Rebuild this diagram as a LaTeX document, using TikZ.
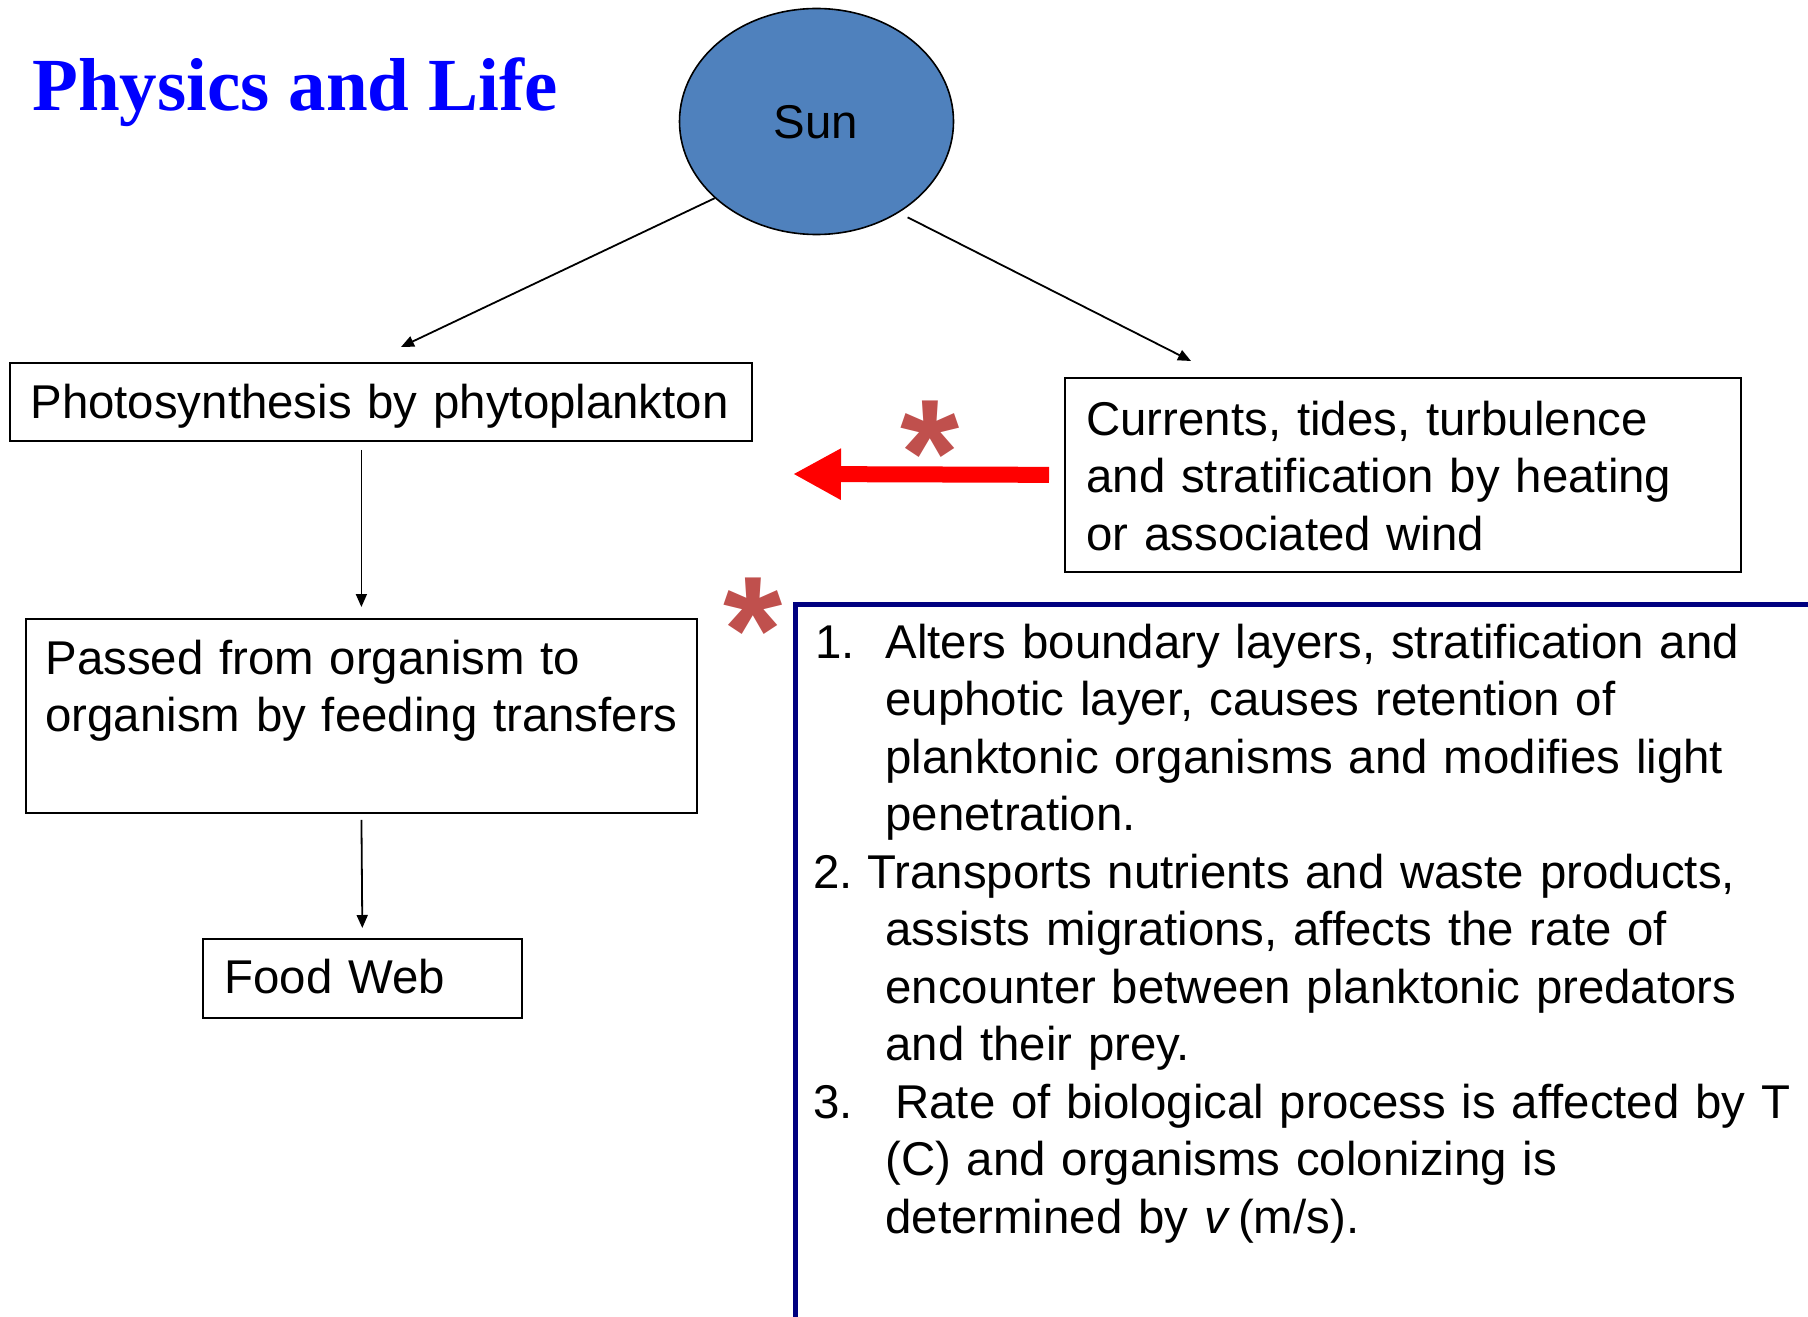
\documentclass[tikz,border=0pt]{standalone}
\usepackage{fontspec}
\setmainfont{Liberation Sans}
\newfontfamily\titlefont{Liberation Serif}
\usetikzlibrary{arrows.meta,shapes.geometric}
\definecolor{sunblue}{HTML}{4F81BD}
\definecolor{astred}{HTML}{C0504D}
\definecolor{panelblue}{HTML}{000080}
\definecolor{titleblue}{HTML}{0000FF}
\begin{document}
\begin{tikzpicture}[x=0.5pt,y=-0.5pt,
  box/.style={draw=black, line width=0.9pt, anchor=north west, inner sep=0pt},
  txt/.style={anchor=base west, inner sep=0pt, align=left, text width=470pt,
              font=\fontsize{23.7}{28.75}\selectfont},
  arr/.style={draw=black, line width=0.9pt, -{Triangle[length=6.5pt,width=5.5pt]}},
  ast/.style={anchor=base, inner sep=0pt, text=astred,
              font=\fontsize{76}{76}\selectfont\bfseries},
  redarrow/.style={draw=red, line width=8pt, -{Triangle[length=24pt,width=24pt]}},
  panel/.style={draw=panelblue, line width=2.6pt, anchor=north west, inner sep=0pt}]
\useasboundingbox (0,0) rectangle (1808,1316);

% title
\node[anchor=base west, inner sep=0pt, text=titleblue,
      font=\titlefont\bfseries\fontsize{37.5}{40}\selectfont] (title) at (32,111) {Physics and Life};

% sun
\node[ellipse, draw=black, line width=0.8pt, fill=sunblue,
      minimum width=137pt, minimum height=113pt, inner sep=0pt] (sun) at (816.5,121.5) {};
\node[anchor=base, inner sep=0pt, font=\fontsize{23.7}{28.75}\selectfont] (suntext) at (816,139) {Sun};

% boxes
\node[box, minimum width=371pt, minimum height=39pt] (photo) at (9,362) {};
\node[txt] (phototext) at (30,418) {Photosynthesis by phytoplankton};

\node[box, minimum width=335.5pt, minimum height=97pt] (passed) at (25,618) {};
\node[txt] (passedtext) at (45,674) {Passed from organism to\\organism by feeding transfers};

\node[box, minimum width=159.5pt, minimum height=39.5pt] (food) at (202,938) {};
\node[txt] (foodtext) at (224,993) {Food Web};

\node[box, minimum width=338pt, minimum height=97pt] (currents) at (1064,377) {};
\node[txt] (currentstext) at (1086,435) {Currents, tides, turbulence\\and stratification by heating\\or associated wind};

% blue panel
\node[panel, minimum width=530pt, minimum height=380pt] (panel) at (793,602) {};
\node[txt] (n1) at (815,658) {1.};
\node[txt] (item1) at (885,658) {Alters boundary layers, stratification and\\euphotic layer, causes retention of\\planktonic organisms and modifies light\\penetration.};
\node[txt] (n2) at (813,888) {2.};
\node[txt] (item2) at (885,888) {\hspace*{-9pt}Transports nutrients and waste products,\\assists migrations, affects the rate of\\encounter between planktonic predators\\and their prey.};
\node[txt] (n3) at (813,1118) {3.};
\node[txt] (item3) at (885,1118) {\hspace*{5pt}Rate of biological process is affected by T\\(C) and organisms colonizing is\\determined by \textit{v}\,(m/s).};

% asterisks
\node[ast] (ast1) at (930,505) {*};
\node[ast] (ast2) at (753,682) {*};

% connectors
\coordinate (photoin) at (401,347);
\coordinate (currin) at (1191,361);
\coordinate (redtip) at (793,474);
\draw[arr] (sun.217.6) -- (photoin);
\draw[arr, shorten <=5pt] (sun.312.8) -- (currin);
\draw[arr, shorten <=4pt, shorten >=5.5pt] (photo.south -| passed.north) -- (passed.north);
\draw[arr, shorten <=3pt, shorten >=5pt] (passed.south) -- (food.north);
\draw[redarrow, shorten <=7.5pt] (currents.west) -- (redtip);
\end{tikzpicture}
\end{document}
